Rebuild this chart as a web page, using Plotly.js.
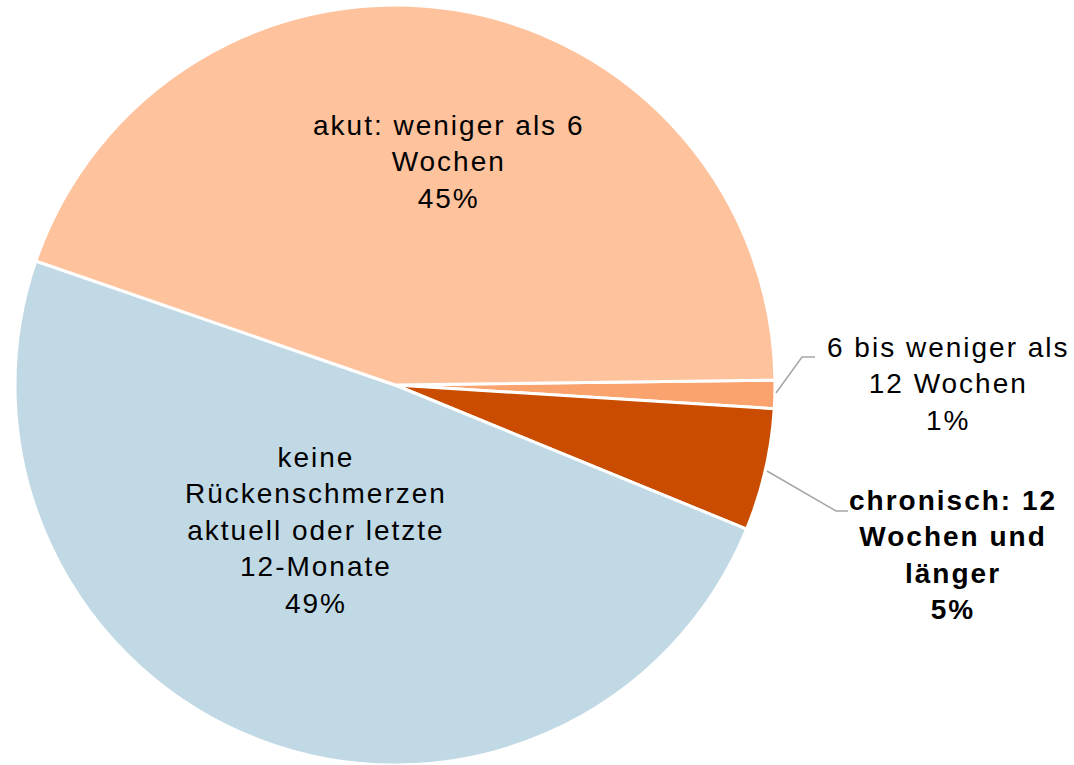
<!DOCTYPE html>
<html>
<head>
<meta charset="utf-8">
<script src="https://cdn.plot.ly/plotly-3.0.1.min.js"></script>
<style>html,body{margin:0;padding:0;background:#fff;}#chart{width:1074px;height:765px;}
#chart .annotation-text{letter-spacing:2px;}</style>
</head>
<body>
<div id="chart"></div>
<script>
const categories = ["6 bis weniger als 12 Wochen", "chronisch: 12 Wochen und länger", "keine Rückenschmerzen aktuell oder letzte 12-Monate", "akut: weniger als 6 Wochen"];
const values = [1.2, 5.2, 49.1, 44.5];
const percentLabels = ["1%", "5%", "49%", "45%"];
const labelTexts = [
  "6 bis weniger als<br>12 Wochen<br>1%",
  "<b>chronisch: 12<br>Wochen und<br>länger<br>5%</b>",
  "keine<br>Rückenschmerzen<br>aktuell oder letzte<br>12-Monate<br>49%",
  "akut: weniger als 6<br>Wochen<br>45%"
];
const colors = ["#FBA36E", "#C94C00", "#C0D9E5", "#FEC29D"];

const W = 1074, H = 765;
const px = x => x / W, py = y => 1 - y / H;

// label positions (pixels)
const labelPos = [[948, 384], [953, 555], [316, 530], [448, 162]];

const annotations = labelTexts.map((t, i) => ({
  text: t, xref: 'paper', yref: 'paper',
  x: px(labelPos[i][0]), y: py(labelPos[i][1]),
  xanchor: 'center', yanchor: 'middle', showarrow: false, align: 'center',
  font: {family: 'Liberation Sans, Arial, sans-serif', size: 28, color: '#000'}
}));

const leader = (pts) => ({
  type: 'path', xref: 'paper', yref: 'paper',
  path: 'M ' + pts.map(p => px(p[0]) + ',' + py(p[1])).join(' L '),
  line: {color: '#A6A6A6', width: 1.5}
});

const data = [{
  type: 'pie',
  labels: categories,
  values: values,
  sort: false,
  direction: 'clockwise',
  rotation: 89.25,
  marker: {colors: colors, line: {color: '#FFFFFF', width: 3}},
  textinfo: 'none',
  hoverinfo: 'label+percent',
  showlegend: false,
  domain: {x: [15 / W, 775 / W], y: [0, 760 / H]}
}];

const layout = {
  width: W, height: H,
  margin: {l: 0, r: 0, t: 0, b: 0},
  paper_bgcolor: '#fff',
  showlegend: false,
  annotations: annotations,
  shapes: [
    leader([[776, 393], [802, 357], [815, 357]]),
    leader([[767, 471], [836, 511], [848, 511]])
  ]
};

Plotly.newPlot('chart', data, layout, {displayModeBar: false, staticPlot: true});
</script>
</body>
</html>
